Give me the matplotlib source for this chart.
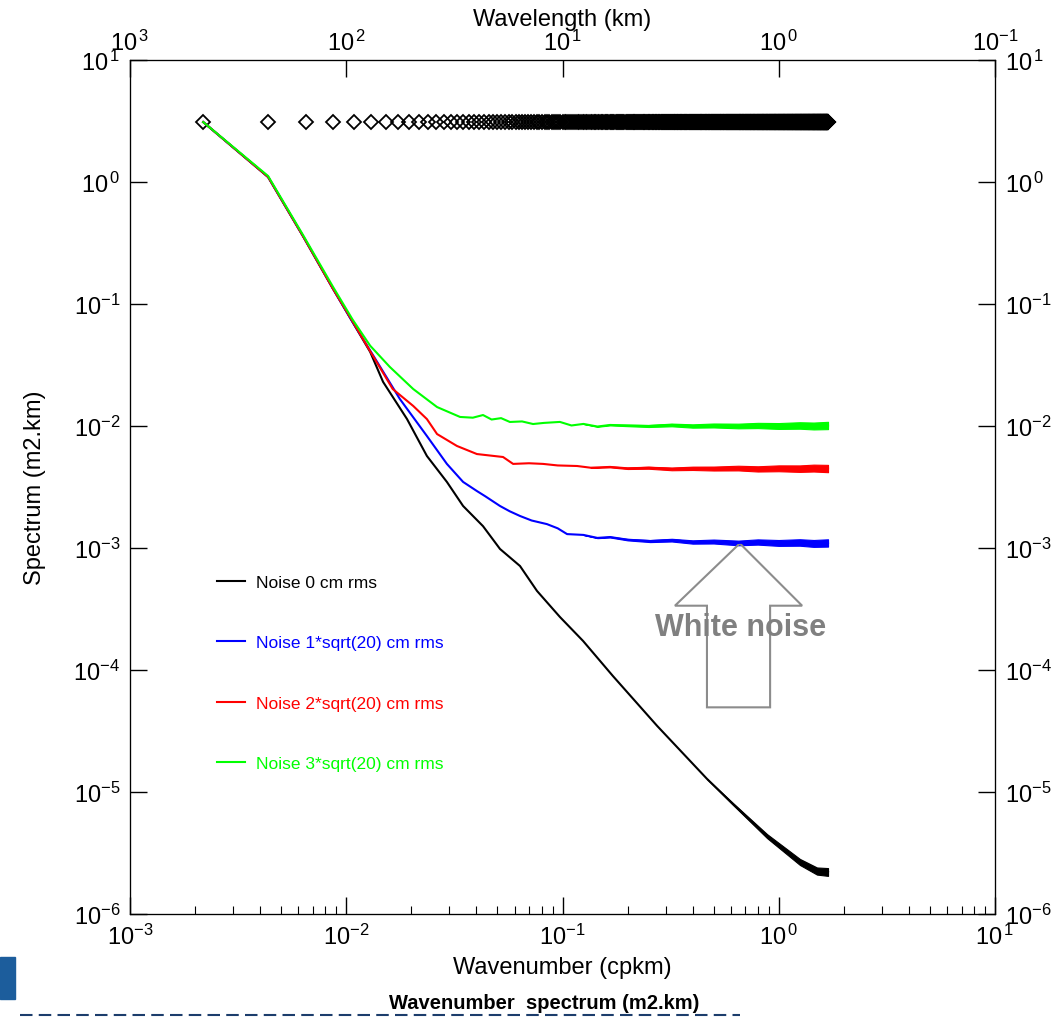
import numpy as np
import matplotlib
matplotlib.use("Agg")
import matplotlib.pyplot as plt
from matplotlib.patches import Polygon, Rectangle
from matplotlib.lines import Line2D
from matplotlib.ticker import LogLocator, NullLocator, FuncFormatter

plt.rcParams['font.family'] = ['Liberation Sans', 'DejaVu Sans']
plt.rcParams['mathtext.fontset'] = 'custom'
plt.rcParams['mathtext.rm'] = 'Liberation Sans'
plt.rcParams['mathtext.it'] = 'Liberation Sans:italic'
plt.rcParams['mathtext.bf'] = 'Liberation Sans:bold'

# wavenumber grid of the spectrum (cpkm) and the level of the grid markers
dk = 1 / 460.0
n_freq = 777
grid_level = 3.1

# spectra (wavenumber in cpkm, spectrum in m2.km)
black_k = [0.00218, 0.00435, 0.00631, 0.00869, 0.0107, 0.0129, 0.0148, 0.0191,
           0.0236, 0.0292, 0.0347, 0.0429, 0.0514, 0.0636, 0.0762, 0.0973,
           0.1245, 0.171, 0.274, 0.466, 0.614, 0.883, 1.253, 1.502, 1.69]
black_s = [3.10, 1.10, 0.360, 0.133, 0.0711, 0.0405, 0.0230, 0.0114,
           0.00568, 0.00348, 0.00221, 0.00151, 0.000982, 0.000712, 0.000445, 0.000272,
           0.000173, 8.93e-5, 3.48e-5, 1.28e-5, 7.98e-6, 4.35e-6, 2.67e-6, 2.25e-6, 2.21e-6]

blue_k = [0.00218, 0.00435, 0.00631, 0.00869, 0.0107, 0.0139, 0.0177, 0.0236,
          0.0292, 0.0347, 0.0402, 0.0440, 0.0514, 0.0570, 0.0636, 0.0720, 0.0847,
          0.095, 0.105, 0.125, 0.145, 0.166, 0.20, 0.254, 0.32, 0.40, 0.50, 0.65,
          0.80, 1.0, 1.25, 1.45, 1.69]
blue_s = [3.10, 1.10, 0.360, 0.133, 0.0711, 0.0335, 0.01664, 0.00828,
          0.00489, 0.00348, 0.00293, 0.00265, 0.00221, 0.00200, 0.00183, 0.00168, 0.00157,
          0.00145, 0.00130, 0.00128, 0.00121, 0.00123, 0.00117, 0.00114, 0.00116, 0.00112,
          0.00113, 0.00110, 0.00112, 0.00110, 0.00111, 0.00109, 0.00110]

red_k = [0.00218, 0.00435, 0.00631, 0.00869, 0.0107, 0.0129, 0.0164, 0.0204,
         0.0236, 0.0263, 0.0325, 0.0402, 0.0531, 0.0591, 0.070, 0.0813, 0.095,
         0.1168, 0.135, 0.166, 0.20, 0.25, 0.32, 0.40, 0.50, 0.65, 0.80, 1.0,
         1.25, 1.45, 1.69]
red_s = [3.10, 1.10, 0.360, 0.133, 0.0720, 0.0410, 0.0201, 0.0146,
         0.0114, 0.00859, 0.00686, 0.00589, 0.00557, 0.00489, 0.00495, 0.00489, 0.00475,
         0.00470, 0.00455, 0.00462, 0.00450, 0.00455, 0.00445, 0.00450, 0.00448, 0.00452,
         0.00445, 0.00450, 0.00447, 0.00452, 0.00448]

green_k = [0.00218, 0.00435, 0.00631, 0.00869, 0.0107, 0.0129, 0.0159, 0.0204,
           0.0263, 0.0336, 0.0385, 0.0429, 0.0470, 0.0520, 0.0571, 0.0650, 0.0731,
           0.0820, 0.0973, 0.110, 0.125, 0.145, 0.166, 0.20, 0.25, 0.32, 0.40,
           0.50, 0.65, 0.80, 1.0, 1.25, 1.45, 1.69]
green_s = [3.10, 1.12, 0.368, 0.138, 0.0745, 0.0455, 0.0305, 0.0201,
           0.0143, 0.01186, 0.01170, 0.0123, 0.0113, 0.0116, 0.01079, 0.0109, 0.01038,
           0.0106, 0.0108, 0.0101, 0.0104, 0.0099, 0.0102, 0.0101, 0.0100, 0.0102, 0.0100,
           0.0101, 0.0100, 0.0101, 0.0100, 0.0101, 0.0100, 0.0101]

labels = ["Noise 0 cm rms", "Noise 1*sqrt(20) cm rms",
          "Noise 2*sqrt(20) cm rms", "Noise 3*sqrt(20) cm rms"]
colors = ["black", "#0000ff", "#ff0000", "#00ff00"]


def pow10(v, pos):
    e = int(round(np.log10(v)))
    if e >= 0:
        return r'$\mathdefault{10^{\,%d}}$' % e
    return r'$\mathdefault{10^{%d}}$' % e


def plot_spectrum(ax, k, s, color, label, k0, half_width):
    k = np.asarray(k)
    s = np.asarray(s)
    line, = ax.plot(k, s, color=color, lw=1.5, label=label)
    # the dense high-wavenumber end looks like a band that widens towards the end
    m = k >= k0
    t = np.log(k[m] / k0) / np.log(k[-1] / k0)
    w = 10 ** (half_width * t)
    ax.fill_between(k[m], s[m] / w, s[m] * w, color=color, lw=0.8)
    return line


def log_axis(axis):
    axis.set_major_locator(LogLocator(base=10, numticks=20))
    axis.set_major_formatter(FuncFormatter(pow10))
    axis.set_minor_locator(NullLocator())


def main():
    fig = plt.figure(figsize=(10.52, 10.2), dpi=100)
    ax = fig.add_axes([130 / 1052, 105 / 1020, 865 / 1052, 854 / 1020])
    ax.set_xscale('log')
    ax.set_yscale('log')
    ax.set_xlim(1e-3, 1e1)
    ax.set_ylim(1e-6, 1e1)

    k_grid = dk * np.arange(1, n_freq + 1)
    ax.plot(k_grid, np.full(n_freq, grid_level), 'D', ms=7.0, mfc='none',
            mec='black', mew=1.3)

    handles = [
        plot_spectrum(ax, black_k, black_s, colors[0], labels[0], 0.45, 0.032),
        plot_spectrum(ax, blue_k, blue_s, colors[1], labels[1], 0.12, 0.030),
        plot_spectrum(ax, red_k, red_s, colors[2], labels[2], 0.12, 0.030),
        plot_spectrum(ax, green_k, green_s, colors[3], labels[3], 0.12, 0.030),
    ]

    ax.legend(handles=handles, loc='upper left', bbox_to_anchor=(0.1006, 0.397),
              frameon=False, fontsize=12.5, handlelength=1.6, handletextpad=0.65,
              labelspacing=2.6, borderpad=0, borderaxespad=0, labelcolor='linecolor')

    # "White noise" arrow
    arrow = Polygon([(0.705, 0.434), (0.777, 0.361), (0.740, 0.361), (0.740, 0.242),
                     (0.667, 0.242), (0.667, 0.361), (0.630, 0.361)],
                    closed=True, fill=False, ec='#8c8c8c', lw=1.5, transform=ax.transAxes)
    ax.add_patch(arrow)
    ax.text(0.706, 0.336, "White noise", transform=ax.transAxes, ha='center', va='center',
            fontsize=22, fontweight='bold', color='#808080')

    log_axis(ax.xaxis)
    ax.xaxis.set_minor_locator(LogLocator(base=10, subs=np.arange(2, 10), numticks=20))
    log_axis(ax.yaxis)
    ax.tick_params(which='major', direction='in', length=12, width=1, labelsize=17, pad=7)
    ax.tick_params(which='minor', direction='in', length=6, width=0.8)
    ax.set_xlabel("Wavenumber (cpkm)", fontsize=17, labelpad=5)
    ax.set_ylabel("Spectrum (m2.km)", fontsize=17, labelpad=20)

    top = ax.twiny()
    top.set_xscale('log')
    top.set_xlim(1e3, 1e-1)
    log_axis(top.xaxis)
    top.tick_params(direction='in', length=12, width=1, labelsize=17, pad=4)
    top.set_xlabel("Wavelength (km)", fontsize=17, labelpad=3)

    right = ax.twinx()
    right.set_yscale('log')
    right.set_ylim(1e-6, 1e1)
    log_axis(right.yaxis)
    right.tick_params(direction='in', length=12, width=1, labelsize=17, pad=7)

    fig.text(544 / 1052, 1 - 1004 / 1020, "Wavenumber  spectrum (m2.km)", ha='center',
             va='center', fontsize=14.5, fontweight='bold')
    fig.patches.append(Rectangle((0, 20 / 1020), 15 / 1052, 42 / 1020, color='#1c5d9c',
                                 transform=fig.transFigure, figure=fig))
    fig.add_artist(Line2D([20 / 1052, 740 / 1052], [4 / 1020, 4 / 1020], color='#1c3d6c',
                          lw=1.5, ls=(0, (6, 3)), transform=fig.transFigure))

    fig.savefig("out.png", dpi=100)


if __name__ == "__main__":
    main()
